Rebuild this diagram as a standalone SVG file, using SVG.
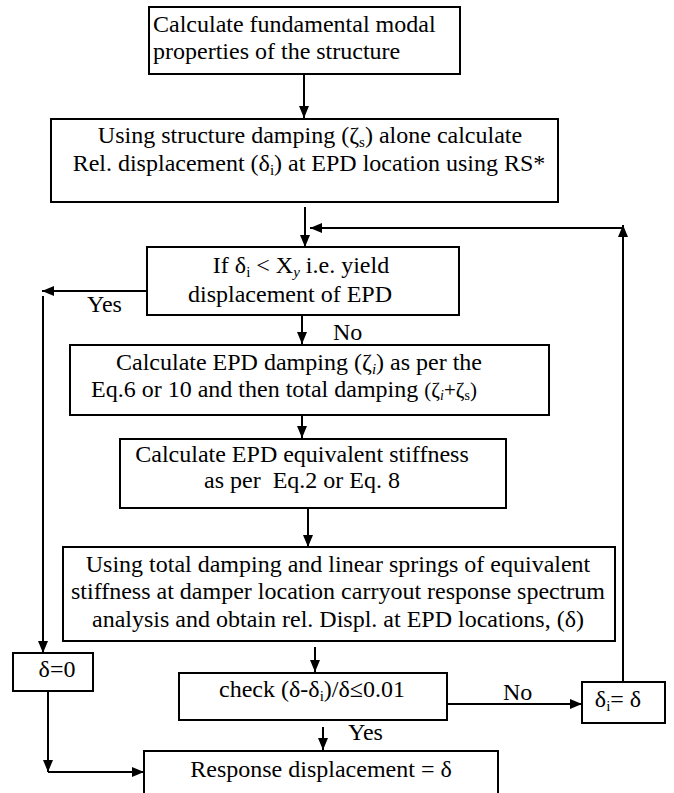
<svg xmlns="http://www.w3.org/2000/svg" width="674" height="793" viewBox="0 0 674 793">
<style>
.box{fill:#fff;stroke:#000;stroke-width:2}
.t{font-family:"Liberation Serif","Times New Roman",serif;font-size:24px;fill:#000}
.m{text-anchor:middle}
.c{fill:none;stroke:#000;stroke-width:2}
.sub{font-size:15px}
</style>
<defs>
<marker id="ah" markerUnits="userSpaceOnUse" markerWidth="12" markerHeight="10" refX="12" refY="5" orient="auto">
<path d="M0,0 L12,5 L0,10 z" fill="#000"/>
</marker>
</defs>
<rect width="674" height="793" fill="#fff"/>
<g id="connectors">
<line class="c" x1="304" y1="74" x2="304" y2="118" marker-end="url(#ah)"/>
<line class="c" x1="305" y1="207" x2="305" y2="247" marker-end="url(#ah)"/>
<line class="c" x1="302" y1="316" x2="302" y2="344" marker-end="url(#ah)"/>
<line class="c" x1="302" y1="416" x2="302" y2="438" marker-end="url(#ah)"/>
<line class="c" x1="308" y1="508" x2="308" y2="547" marker-end="url(#ah)"/>
<line class="c" x1="315" y1="647" x2="315" y2="672" marker-end="url(#ah)"/>
<line class="c" x1="323" y1="727" x2="323" y2="750" marker-end="url(#ah)"/>
<line class="c" x1="147" y1="291" x2="42" y2="291" marker-end="url(#ah)"/>
<line class="c" x1="43" y1="296" x2="43" y2="653" marker-end="url(#ah)"/>
<line class="c" x1="48" y1="691" x2="48" y2="772" marker-end="url(#ah)"/>
<line class="c" x1="48" y1="772" x2="144" y2="772" marker-end="url(#ah)"/>
<line class="c" x1="447" y1="704" x2="582" y2="704" marker-end="url(#ah)"/>
<line class="c" x1="623" y1="682" x2="623" y2="225" marker-end="url(#ah)"/>
<line class="c" x1="623" y1="228" x2="310" y2="228" marker-end="url(#ah)"/>
</g>
<g id="n1">
<rect class="box" x="149" y="7" width="311" height="67"/>
<text class="t" x="153" y="32">Calculate fundamental modal</text>
<text class="t" x="153" y="59">properties of the structure</text>
</g>
<g id="n2">
<rect class="box" x="51" y="119" width="507" height="83"/>
<text class="t m" x="310" y="143">Using structure damping (ζ<tspan class="sub" dy="4">s</tspan><tspan dy="-4">) alone calculate</tspan></text>
<text class="t m" x="309" y="171">Rel. displacement (δ<tspan class="sub" dy="4">i</tspan><tspan dy="-4">) at EPD location using RS*</tspan></text>
</g>
<g id="n3">
<rect class="box" x="147" y="247" width="312" height="68"/>
<text class="t m" x="301" y="273">If δ<tspan class="sub" dy="4">i</tspan><tspan dy="-4"> &lt; X</tspan><tspan class="sub" font-style="italic" dy="4">y</tspan><tspan dy="-4"> i.e. yield</tspan></text>
<text class="t m" x="290" y="302">displacement of EPD</text>
</g>
<text class="t" x="87" y="312">Yes</text>
<text class="t" x="333" y="340">No</text>
<g id="n4">
<rect class="box" x="70" y="345" width="479" height="70"/>
<text class="t m" x="299" y="370">Calculate EPD damping (ζ<tspan class="sub" font-style="italic" dy="4">i</tspan><tspan dy="-4">) as per the</tspan></text>
<text class="t" x="91" y="397">Eq.6 or 10 and then total damping <tspan font-size="21">(ζ</tspan><tspan font-size="14" font-style="italic" dy="3">i</tspan><tspan font-size="21" dy="-3">+ζ</tspan><tspan font-size="14" dy="3">s</tspan><tspan font-size="21" dy="-3">)</tspan></text>
</g>
<g id="n5">
<rect class="box" x="120" y="439" width="386" height="69"/>
<text class="t m" x="302" y="462">Calculate EPD equivalent stiffness</text>
<text class="t m" x="302" y="488" xml:space="preserve">as per  Eq.2 or Eq. 8</text>
</g>
<g id="n6">
<rect class="box" x="63" y="547" width="552" height="94"/>
<text class="t m" x="338" y="572">Using total damping and linear springs of equivalent</text>
<text class="t m" x="338" y="599">stiffness at damper location carryout response spectrum</text>
<text class="t m" x="338" y="627">analysis and obtain rel. Displ. at EPD locations, (δ)</text>
</g>
<g id="n7">
<rect class="box" x="13" y="653" width="80" height="38"/>
<text class="t m" x="57" y="677">δ=0</text>
</g>
<g id="n8">
<rect class="box" x="179" y="673" width="268" height="47"/>
<text class="t m" x="312" y="697">check (δ-δ<tspan class="sub" dy="4">i</tspan><tspan dy="-4">)/δ≤0.01</tspan></text>
</g>
<text class="t" x="503" y="700">No</text>
<g id="n9">
<rect class="box" x="582" y="682" width="83" height="41"/>
<text class="t m" x="618" y="707">δ<tspan class="sub" dy="4">i</tspan><tspan dy="-4">= δ</tspan></text>
</g>
<text class="t" x="348" y="740">Yes</text>
<g id="n10">
<rect class="box" x="144" y="751" width="354" height="60"/>
<text class="t m" x="321" y="777">Response displacement = δ</text>
</g>
</svg>
